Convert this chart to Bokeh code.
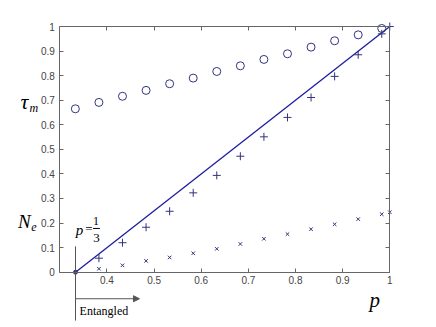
from bokeh.plotting import figure
from bokeh.models import Label, Arrow, NormalHead, LinearAxis, Range1d, FixedTicker
from bokeh.embed import file_html
from bokeh.resources import INLINE

# ---- data ----
p_circle = [0.333, 0.383, 0.433, 0.483, 0.533, 0.583, 0.633, 0.683, 0.733, 0.783, 0.833, 0.883, 0.933, 0.983]
tau_m = [0.665, 0.691, 0.716, 0.740, 0.767, 0.790, 0.817, 0.840, 0.866, 0.889, 0.916, 0.942, 0.966, 0.992]

p_plus = [0.383, 0.433, 0.483, 0.533, 0.583, 0.633, 0.683, 0.733, 0.783, 0.833, 0.883, 0.933, 0.983, 1.0]
n_plus = [0.057, 0.120, 0.183, 0.248, 0.323, 0.394, 0.472, 0.551, 0.630, 0.711, 0.797, 0.885, 0.970, 1.0]

p_cross = [0.383, 0.433, 0.483, 0.533, 0.583, 0.633, 0.683, 0.733, 0.783, 0.833, 0.883, 0.933, 0.983, 1.0]
n_cross = [0.014, 0.028, 0.046, 0.060, 0.077, 0.095, 0.115, 0.136, 0.155, 0.175, 0.195, 0.216, 0.236, 0.244]

p_line = [1 / 3, 1.0]
n_line = [0.0, 1.0]

x_ticks = [0.4, 0.5, 0.6, 0.7, 0.8, 0.9, 1.0]
y_ticks = [0, 0.1, 0.2, 0.3, 0.4, 0.5, 0.6, 0.7, 0.8, 0.9, 1.0]
x_lim = (0.3, 1.0)
y_lim = (0.0, 1.0)

MARK = "#33337f"
LINE = "#1c1ca0"
AX = "#666666"

# frame covers the whole canvas; the box axes are fixed at the data limits
p = figure(width=420, height=322, output_backend="svg", toolbar_location=None,
           x_range=Range1d(0.17420, 1.06517), y_range=Range1d(-0.20472, 1.10582),
           x_axis_location=None, y_axis_location=None,
           min_border_left=0, min_border_right=0, min_border_top=0, min_border_bottom=0)
p.background_fill_color = "white"
p.border_fill_color = "white"
p.outline_line_color = None
p.grid.visible = False


def make_axis(ticks, loc, bounds, labels=True):
    ax = LinearAxis(ticker=FixedTicker(ticks=ticks), fixed_location=loc, bounds=bounds,
                    major_tick_in=4, major_tick_out=0, minor_tick_line_color=None,
                    axis_line_color=AX, major_tick_line_color=AX,
                    major_label_text_font="Liberation Sans", major_label_text_font_size="10px",
                    major_label_text_color="#444444")
    if not labels:
        ax.major_label_overrides = {t: "" for t in ticks}
    return ax


bottom = make_axis(x_ticks, y_lim[0], x_lim)
bottom.major_label_standoff = 4
left = make_axis(y_ticks, x_lim[0], y_lim)
left.major_label_standoff = 5
top = make_axis(x_ticks, y_lim[1], x_lim, labels=False)
right = make_axis(y_ticks, x_lim[1], y_lim, labels=False)
p.add_layout(bottom, "below")
p.add_layout(left, "left")
p.add_layout(top, "above")
p.add_layout(right, "right")

p.line(p_line, n_line, line_color=LINE, line_width=1.3)
p.scatter(p_circle, tau_m, marker="circle", size=8, fill_color=None, line_color=MARK, line_width=1)
p.scatter(p_plus, n_plus, marker="cross", size=8, line_color=MARK, line_width=1)
p.scatter(p_cross, n_cross, marker="x", size=5, line_color=MARK, line_width=1)
p.scatter([p_line[0]], [n_line[0]], marker="circle", size=4, fill_color=MARK, line_color=MARK)


def lab(x, y, t, size, style="italic", font="Liberation Serif", align="center"):
    p.add_layout(Label(x=x, y=y, text=t, text_font=font, text_font_size=size,
                       text_font_style=style, text_align=align, text_baseline="middle",
                       text_color="black"))


lab(0.225, 0.695, "τ", "22px")
lab(0.245, 0.668, "m", "12px")
lab(0.225, 0.206, "N", "19px")
lab(0.245, 0.186, "e", "12px")
lab(0.968, -0.113, "p", "21px")
lab(0.342, 0.172, "p", "15px")
lab(0.3615, 0.176, "=", "13px", style="normal")
lab(0.377, 0.208, "1", "12px", style="normal")
lab(0.378, 0.138, "3", "13px", style="normal")
lab(0.342, -0.158, "Entangled", "12px", style="normal", font="Liberation Serif", align="left")

# fraction bar
p.add_layout(Arrow(end=None, x_start=0.3705, y_start=0.178, x_end=0.385, y_end=0.178,
                   line_color="black", line_width=1))
# vertical marker line at p = 1/3
p.add_layout(Arrow(end=None, x_start=1 / 3, y_start=0.105, x_end=1 / 3, y_end=-0.197,
                   line_color="#555555", line_width=1))
# arrow "Entangled"
p.add_layout(Arrow(end=NormalHead(size=6, fill_color="#555555", line_color="#555555"),
                   x_start=1 / 3, y_start=-0.108, x_end=0.469, y_end=-0.108,
                   line_color="#555555", line_width=1))

open("out.html", "w").write(file_html(p, INLINE))
